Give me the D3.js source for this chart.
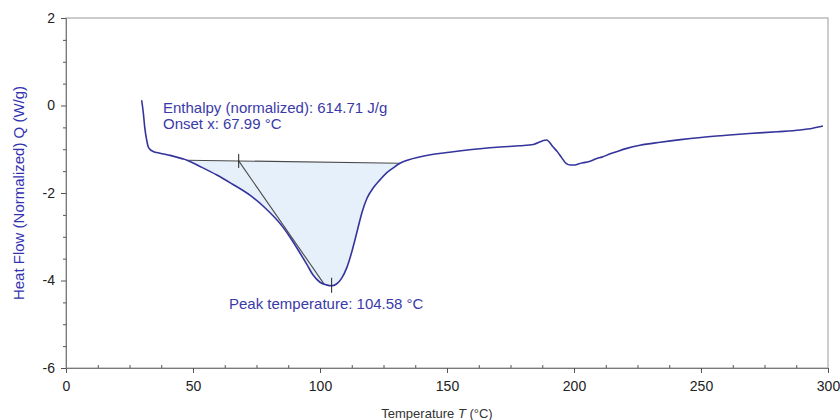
<!DOCTYPE html>
<html>
<head>
<meta charset="utf-8">
<script src="https://cdn.jsdelivr.net/npm/d3@7"></script>
<style>
  html, body { margin: 0; padding: 0; background: #fff; }
  svg { display: block; font-family: Arial, "Liberation Sans", sans-serif; }
</style>
</head>
<body>
<svg id="chart" width="840" height="420"></svg>
<script>
// DSC thermogram: normalized heat flow vs temperature
const temperature = [29.8, 30.5, 31, 31.8, 32.3, 33, 34.3, 37, 41, 46, 47.6, 53, 59.4, 65, 72.4, 78, 85.4, 89, 92, 95, 97.2, 100, 102.5, 104.5, 106.5, 108.5, 110.6, 112.5, 114.6, 116.5, 118.5, 121, 123.6, 126, 128.7, 131.5, 135, 143, 151, 163, 171, 178.7, 184, 189.2, 191.8, 193.5, 195, 197, 198.5, 200.4, 202, 203.5, 206, 209, 211, 214, 217, 220.8, 226, 234, 242, 250, 260, 269, 280, 289, 294, 298];
const heatFlow = [0.12, -0.2, -0.5, -0.8, -0.93, -1.0, -1.05, -1.09, -1.14, -1.22, -1.25, -1.40, -1.59, -1.78, -2.05, -2.32, -2.78, -3.08, -3.36, -3.65, -3.87, -4.04, -4.1, -4.12, -4.08, -3.95, -3.7, -3.35, -2.88, -2.45, -2.12, -1.88, -1.7, -1.55, -1.43, -1.32, -1.24, -1.13, -1.07, -0.99, -0.95, -0.92, -0.89, -0.79, -0.95, -1.06, -1.18, -1.33, -1.36, -1.36, -1.33, -1.31, -1.28, -1.21, -1.18, -1.11, -1.05, -0.98, -0.91, -0.84, -0.78, -0.73, -0.68, -0.64, -0.6, -0.56, -0.52, -0.47];

// Integration baseline of the melting peak (start, end)
const baselineT = [47.6, 131.5];
const baselineQ = [-1.25, -1.32];

// Onset construction: tangent from onset point on baseline to the steep flank
const onsetT = 67.99;
const tangentEnd = [101.5, -4.07];
const peakT = 104.58;
const peakQ = -4.12;

const enthalpy = 614.71;

const xTicks = [0, 50, 100, 150, 200, 250, 300];
const yTicks = [-6, -4, -2, 0, 2];

const width = 840, height = 420;
const margin = { top: 18, right: 12, bottom: 52, left: 66 };

const svg = d3.select("#chart");
const x = d3.scaleLinear().domain([0, 300]).range([margin.left, width - margin.right]);
const y = d3.scaleLinear().domain([-6, 2]).range([height - margin.bottom, margin.top]);

const data = temperature.map((t, i) => ({ t, q: heatFlow[i] }));
const baseAt = d3.scaleLinear().domain(baselineT).range(baselineQ);

const curveColor = "#34349c";
const axisColor = "#7a7a7a";
const plain = d => String(d);

// Frame (top and right borders)
svg.append("rect")
  .attr("x", x(0)).attr("y", y(2))
  .attr("width", x(300) - x(0)).attr("height", y(-6) - y(2))
  .attr("fill", "none").attr("stroke", "#9a9a9a").attr("stroke-width", 1);

// Filled peak area between baseline and curve
svg.append("clipPath").attr("id", "peakClip")
  .append("rect")
  .attr("x", x(baselineT[0])).attr("y", y(2))
  .attr("width", x(baselineT[1]) - x(baselineT[0]))
  .attr("height", y(-6) - y(2));

svg.append("path")
  .datum(data)
  .attr("clip-path", "url(#peakClip)")
  .attr("fill", "#e6f0fb")
  .attr("d", d3.area()
    .x(d => x(d.t))
    .y0(d => y(baseAt(d.t)))
    .y1(d => y(d.q))
    .curve(d3.curveMonotoneX));

// Baseline
svg.append("line")
  .attr("x1", x(baselineT[0])).attr("y1", y(baselineQ[0]))
  .attr("x2", x(baselineT[1])).attr("y2", y(baselineQ[1]))
  .attr("stroke", "#4a4a4a").attr("stroke-width", 1.1);

// Onset tangent
svg.append("line")
  .attr("x1", x(onsetT)).attr("y1", y(baseAt(onsetT)))
  .attr("x2", x(tangentEnd[0])).attr("y2", y(tangentEnd[1]))
  .attr("stroke", "#4a4a4a").attr("stroke-width", 1.1);

// Heat flow curve
svg.append("path")
  .datum(data)
  .attr("fill", "none")
  .attr("stroke", curveColor)
  .attr("stroke-width", 1.6)
  .attr("stroke-linejoin", "round")
  .attr("d", d3.line().x(d => x(d.t)).y(d => y(d.q)).curve(d3.curveMonotoneX));

// Onset and peak markers
svg.append("line")
  .attr("x1", x(onsetT)).attr("x2", x(onsetT))
  .attr("y1", y(baseAt(onsetT)) - 7).attr("y2", y(baseAt(onsetT)) + 7)
  .attr("stroke", "#222").attr("stroke-width", 1);
svg.append("line")
  .attr("x1", x(peakT)).attr("x2", x(peakT))
  .attr("y1", y(peakQ) - 8).attr("y2", y(peakQ) + 7)
  .attr("stroke", "#222").attr("stroke-width", 1);

// Axes
const xAxis = svg.append("g").attr("transform", `translate(0,${y(-6)})`)
  .call(d3.axisBottom(x).tickValues(xTicks).tickSize(5).tickPadding(8).tickFormat(plain));
const xMinor = svg.append("g").attr("transform", `translate(0,${y(-6)})`)
  .call(d3.axisTop(x).tickValues(d3.range(0, 300.1, 12.5).filter(v => v % 50 !== 0)).tickSize(3).tickFormat(""));
const yAxis = svg.append("g").attr("transform", `translate(${x(0)},0)`)
  .call(d3.axisLeft(y).tickValues(yTicks).tickSize(5).tickPadding(6).tickFormat(plain));
const yMinor = svg.append("g").attr("transform", `translate(${x(0)},0)`)
  .call(d3.axisLeft(y).tickValues(d3.range(-6, 2.01, 0.5).filter(v => v % 2 !== 0)).tickSize(3).tickFormat(""));

[xAxis, xMinor, yAxis, yMinor].forEach(g => {
  g.select(".domain").attr("stroke", axisColor);
  g.selectAll(".tick line").attr("stroke", "#555");
  g.selectAll(".tick text").attr("fill", "#222").style("font-size", "14px")
    .style("font-family", "Arial, 'Liberation Sans', sans-serif");
});
xMinor.select(".domain").remove();
yMinor.select(".domain").remove();

// Axis titles
const yTitle = svg.append("text")
  .attr("transform", `translate(24,${(y(2) + y(-6)) / 2}) rotate(-90)`)
  .attr("text-anchor", "middle")
  .attr("fill", "#3333b0")
  .style("font-size", "15px");
yTitle.append("tspan").text("Heat Flow (Normalized)  ");
yTitle.append("tspan").text("Q");
yTitle.append("tspan").text("  (W/g)");

const xTitle = svg.append("text")
  .attr("x", 437).attr("y", 418)
  .attr("text-anchor", "middle")
  .attr("fill", "#333")
  .style("font-size", "13px");
xTitle.append("tspan").text("Temperature ");
xTitle.append("tspan").attr("font-style", "italic").text("T");
xTitle.append("tspan").text(" (°C)");

// Annotations
const annColor = "#3a3aa8";
svg.append("text").attr("x", 163).attr("y", 113)
  .attr("fill", annColor).style("font-size", "15px")
  .text(`Enthalpy (normalized): ${enthalpy.toFixed(2)} J/g`);
svg.append("text").attr("x", 163).attr("y", 129)
  .attr("fill", annColor).style("font-size", "15px")
  .text(`Onset x: ${onsetT.toFixed(2)} °C`);
svg.append("text").attr("x", 229).attr("y", 309)
  .attr("fill", annColor).style("font-size", "15px")
  .text(`Peak temperature: ${peakT.toFixed(2)} °C`);
</script>
</body>
</html>
